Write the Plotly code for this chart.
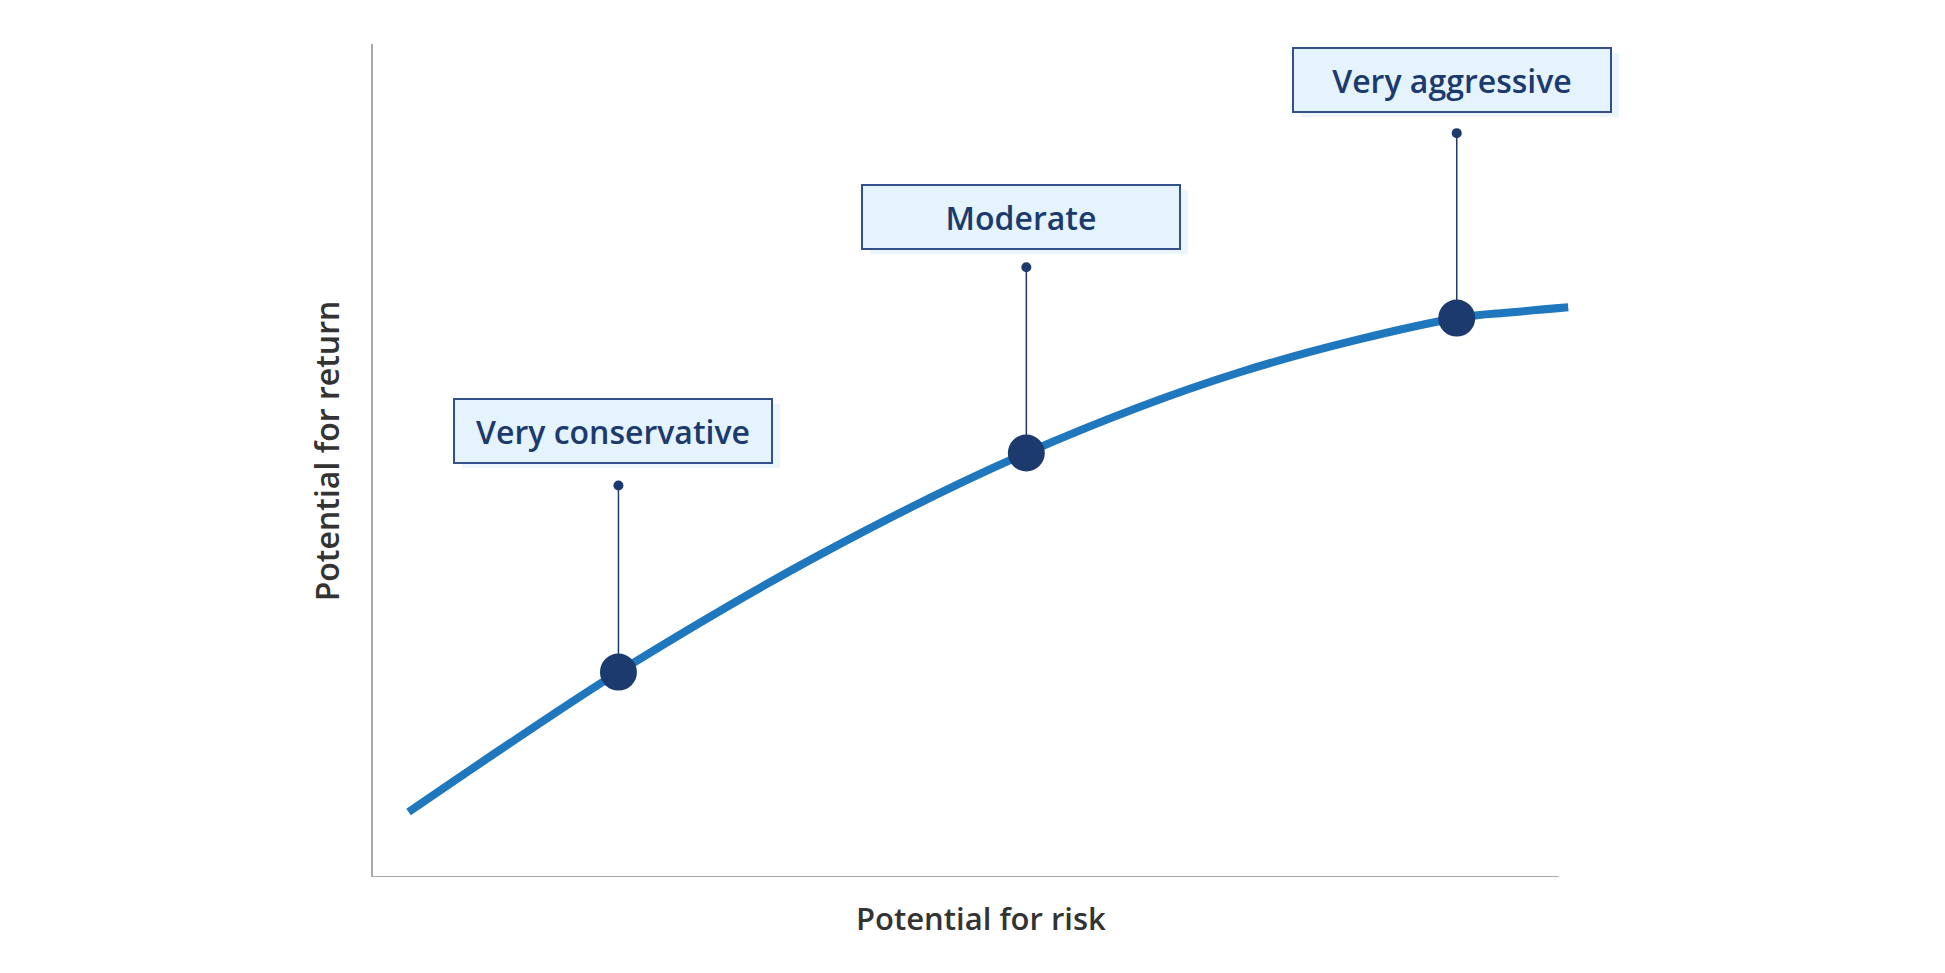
import plotly.graph_objects as go

# curve of potential return vs potential risk (x: risk, y: return, 0-100 scale)
curve_risk = [3.0, 11.8, 20.7, 37.7, 55.1, 73.1, 91.4, 96.1, 100.8]
curve_return = [7.8, 16.3, 24.6, 38.7, 50.9, 60.6, 67.1, 67.8, 68.4]

# profile points on the curve
profile_names = ['Very conservative', 'Moderate', 'Very aggressive']
profile_risk = [20.7, 55.1, 91.4]
profile_return = [24.6, 50.9, 67.1]
dot_return = [47.0, 73.2, 89.3]
label_return = [53.5, 79.2, 95.7]

navy = '#1c3a6e'
blue = '#1f77bd'
axis_gray = '#a9a9a9'
font_name = 'Open Sans'

fig = go.Figure()

fig.add_trace(go.Scatter(
    x=curve_risk, y=curve_return, mode='lines',
    line=dict(color=blue, width=8, shape='spline', smoothing=1.0),
    hoverinfo='skip'))

# thin connector from the small dot down to the big marker
for rx, ry, dy in zip(profile_risk, profile_return, dot_return):
    fig.add_trace(go.Scatter(
        x=[rx, rx], y=[ry, dy], mode='lines',
        line=dict(color=navy, width=1.5), hoverinfo='skip'))

fig.add_trace(go.Scatter(
    x=profile_risk, y=dot_return, mode='markers',
    marker=dict(color=navy, size=10), hoverinfo='skip'))

fig.add_trace(go.Scatter(
    x=profile_risk, y=profile_return, mode='markers', text=profile_names,
    marker=dict(color=navy, size=37), hoverinfo='text'))

annotations = []
for name, rx, ly in zip(profile_names, profile_risk, label_return):
    # faint drop shadow behind the label box
    annotations.append(dict(
        x=rx, y=ly, xref='x', yref='y', text='', showarrow=False,
        xshift=3, yshift=-5, width=318, height=64, borderpad=0,
        bgcolor='#eaf5fc', borderwidth=0))
    annotations.append(dict(
        x=rx, y=ly, xref='x', yref='y', text=name, showarrow=False,
        xshift=-5, width=316, height=62, borderpad=0,
        bgcolor='#e4f3fc', bordercolor='#34508a', borderwidth=2,
        font=dict(family=font_name, size=32, color=navy, weight=600)))

# axis titles
annotations.append(dict(
    x=51.3, y=0, xref='x', yref='paper', yanchor='middle',
    text='Potential for risk', showarrow=False, yshift=-41,
    font=dict(family=font_name, size=31, color='#333333', weight=600)))
annotations.append(dict(
    x=0, y=51.1, xref='paper', yref='y', xanchor='center',
    text='Potential for return', showarrow=False, xshift=-47, textangle=-90,
    font=dict(family=font_name, size=32, color='#333333', weight=600)))

# page body adds an 8px offset, so the figure is a little smaller than the window
fig.update_layout(
    width=1929, height=957,
    margin=dict(l=365, r=319, t=36, b=88),
    plot_bgcolor='white', paper_bgcolor='white',
    showlegend=False,
    annotations=annotations,
    shapes=[dict(type='line', xref='x', yref='y', x0=0, x1=100, y0=0, y1=0,
                 line=dict(color=axis_gray, width=2), layer='below')],
    xaxis=dict(range=[0, 105], showgrid=False, zeroline=False, showline=False,
               showticklabels=False, ticks=''),
    yaxis=dict(range=[0, 100], showgrid=False, zeroline=False, showline=True,
               linecolor=axis_gray, linewidth=2, showticklabels=False, ticks=''),
)

fig.write_html("out.html")
